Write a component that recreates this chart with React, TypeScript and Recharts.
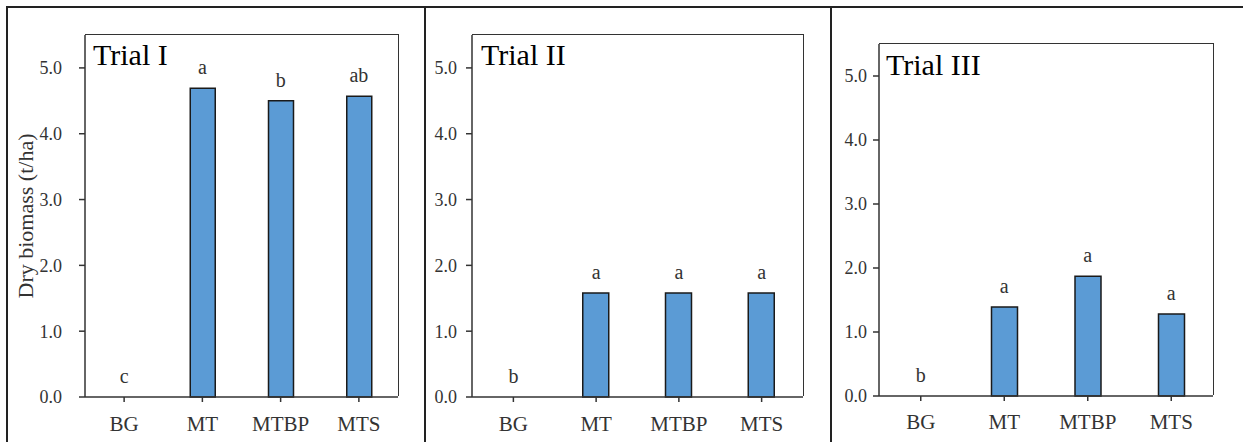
import React from "react";
import {
  ComposedChart,
  Bar,
  Line,
  XAxis,
  YAxis,
  LabelList,
} from "recharts";

const categories = ["BG", "MT", "MTBP", "MTS"];
const trial1 = [0, 4.69, 4.5, 4.57];
const trial1Letters = ["c", "a", "b", "ab"];
const trial2 = [0, 1.58, 1.58, 1.58];
const trial2Letters = ["b", "a", "a", "a"];
const trial3 = [0, 1.39, 1.87, 1.28];
const trial3Letters = ["b", "a", "a", "a"];
const yTicks = [0, 1, 2, 3, 4, 5];
const titles = ["Trial I", "Trial II", "Trial III"];
const yLabel = "Dry biomass (t/ha)";

const FONT = "'Liberation Serif', 'Times New Roman', serif";
const AXIS = "#333";
const TXT = "#333";

const build = (vals: number[], letters: string[]) =>
  categories.map((name, i) => ({ name, value: vals[i], letter: letters[i] }));

const panels = [
  {
    data: build(trial1, trial1Letters),
    title: titles[0],
    left: 0,
    width: 420,
    top: 35,
    yWidth: 85,
    right: 22,
    xHeight: 45,
    yTickMargin: 17,
    xTickMargin: 14,
    barSize: 25,
    showLabel: true,
    titlePos: { left: 93, top: 40 },
  },
  {
    data: build(trial2, trial2Letters),
    title: titles[1],
    left: 425,
    width: 406,
    top: 35,
    yWidth: 47,
    right: 28,
    xHeight: 45,
    yTickMargin: 9,
    xTickMargin: 14,
    barSize: 26,
    showLabel: false,
    titlePos: { left: 481, top: 40 },
  },
  {
    data: build(trial3, trial3Letters),
    title: titles[2],
    left: 831,
    width: 412,
    top: 44,
    yWidth: 48,
    right: 30,
    xHeight: 46,
    yTickMargin: 6,
    xTickMargin: 13,
    barSize: 26,
    showLabel: false,
    titlePos: { left: 886, top: 50 },
  },
];

const H = 442;

const Panel = ({ p }: any) => (
  <div style={{ position: "absolute", left: p.left, top: 0 }}>
    <ComposedChart
      width={p.width}
      height={H}
      data={p.data}
      margin={{ top: p.top, right: p.right, bottom: 0, left: 0 }}
      style={{ fontFamily: FONT }}
    >
      <XAxis
        dataKey="name"
        height={p.xHeight}
        stroke={AXIS}
        strokeWidth={1.5}
        tickSize={5}
        tickMargin={p.xTickMargin}
        tick={{ fill: TXT, fontSize: 21, fontFamily: FONT }}
      />
      <YAxis
        domain={[0, 5.5]}
        ticks={yTicks}
        width={p.yWidth}
        stroke={AXIS}
        strokeWidth={1.5}
        tickSize={6}
        tickMargin={p.yTickMargin}
        tickFormatter={(v: number) => v.toFixed(1)}
        tick={{ fill: TXT, fontSize: 18, fontFamily: FONT }}
        label={
          p.showLabel
            ? {
                value: yLabel,
                angle: -90,
                position: "insideLeft",
                offset: 25,
                style: {
                  textAnchor: "middle",
                  fill: TXT,
                  fontSize: 22,
                  fontFamily: FONT,
                },
              }
            : undefined
        }
      />
      <Bar
        dataKey="value"
        fill="#5B9BD5"
        stroke="#1a1a1a"
        strokeWidth={1.5}
        barSize={p.barSize}
        isAnimationActive={false}
      />
      {/* invisible series carrying the significance letters above each bar */}
      <Line
        dataKey="value"
        stroke="none"
        dot={false}
        activeDot={false}
        isAnimationActive={false}
      >
        <LabelList
          dataKey="letter"
          position="top"
          offset={14}
          style={{ fill: TXT, fontSize: 20, fontFamily: FONT }}
        />
      </Line>
    </ComposedChart>
    {/* top and right edges of the plot box */}
    <div
      style={{
        position: "absolute",
        left: p.yWidth,
        top: p.top - 0.75,
        width: p.width - p.yWidth - p.right + 0.75,
        height: H - p.top - p.xHeight,
        borderTop: `1.5px solid ${AXIS}`,
        borderRight: `1.5px solid ${AXIS}`,
        boxSizing: "border-box",
        pointerEvents: "none",
      }}
    />
  </div>
);

export default function App() {
  return (
    <div
      style={{
        position: "absolute",
        left: 0,
        top: 0,
        width: 1243,
        height: H,
        background: "#fff",
        overflow: "hidden",
        fontFamily: FONT,
      }}
    >
      {panels.map((p, i) => (
        <Panel key={i} p={p} />
      ))}
      {panels.map((p, i) => (
        <div
          key={"t" + i}
          style={{
            position: "absolute",
            left: p.titlePos.left,
            top: p.titlePos.top,
            fontSize: 30,
            lineHeight: "30px",
            color: "#000",
            whiteSpace: "nowrap",
          }}
        >
          {p.title}
        </div>
      ))}
      <div style={{ position: "absolute", left: 6, top: 6, width: 1243, height: 2, background: "#222" }} />
      <div style={{ position: "absolute", left: 6, top: 6, width: 2, height: H, background: "#222" }} />
      <div style={{ position: "absolute", left: 424, top: 6, width: 2, height: H, background: "#222" }} />
      <div style={{ position: "absolute", left: 830, top: 6, width: 2, height: H, background: "#222" }} />
    </div>
  );
}
